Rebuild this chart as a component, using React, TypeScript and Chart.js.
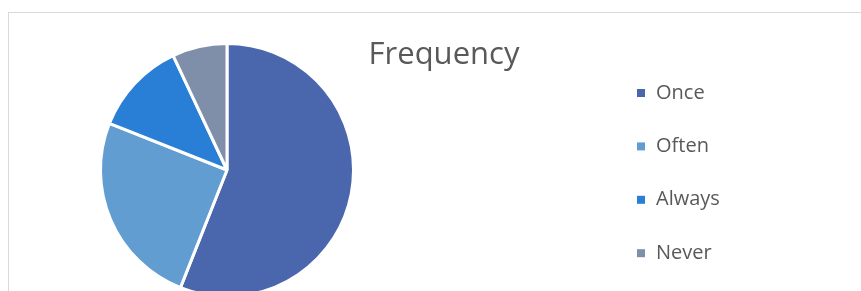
import React, { useEffect, useRef } from "react";
import { Chart, registerables } from "chart.js";

Chart.register(...registerables);

const titleText = "Frequency";
const categories = ["Once", "Often", "Always", "Never"];
const values = [56, 25, 12, 7];
const colors = ["#4A66AC", "#629DD1", "#297FD5", "#7F8FA9"];

const CANVAS_W = 870;
const CANVAS_H = 330;

const overlayPlugin = {
  id: "overlayText",
  afterDraw(chart: any) {
    const ctx = chart.ctx;
    ctx.save();
    // title
    ctx.fillStyle = "#595959";
    ctx.font = '31px "Open Sans"';
    ctx.textAlign = "center";
    ctx.textBaseline = "alphabetic";
    ctx.fillText(titleText, chart.width / 2, 51);
    // legend
    ctx.font = '20px "Open Sans"';
    ctx.textAlign = "left";
    const step = 53.4;
    categories.forEach((label, i) => {
      const cy = 80 + i * step;
      ctx.fillStyle = colors[i];
      ctx.fillRect(628, cy - 4, 8, 8);
      ctx.fillStyle = "#595959";
      ctx.fillText(label, 647, cy + 5.5);
    });
    ctx.restore();
  },
};

export default function App() {
  const ref = useRef<HTMLCanvasElement | null>(null);

  useEffect(() => {
    document.body.style.overflow = "hidden";
    if (!ref.current) return;
    const chart = new Chart(ref.current, {
      type: "pie",
      data: {
        labels: categories,
        datasets: [
          {
            data: values,
            backgroundColor: colors,
            borderColor: "#ffffff",
            borderWidth: 3,
          },
        ],
      },
      options: {
        animation: false,
        responsive: false,
        events: [],
        layout: {
          padding: { left: 90, top: 29, right: CANVAS_W - 90 - 256, bottom: CANVAS_H - 29 - 256 },
        },
        plugins: {
          legend: { display: false },
          title: { display: false },
          tooltip: { enabled: false },
        },
      },
      plugins: [overlayPlugin],
    });
    return () => chart.destroy();
  }, []);

  return (
    <div
      style={{
        position: "absolute",
        left: 8,
        top: 12,
        width: CANVAS_W + 2,
        height: CANVAS_H + 2,
        border: "1px solid #d9d9d9",
        boxSizing: "border-box",
        background: "#ffffff",
      }}
    >
      <canvas
        ref={ref}
        width={CANVAS_W}
        height={CANVAS_H}
        style={{ display: "block", width: CANVAS_W, height: CANVAS_H }}
      />
    </div>
  );
}
